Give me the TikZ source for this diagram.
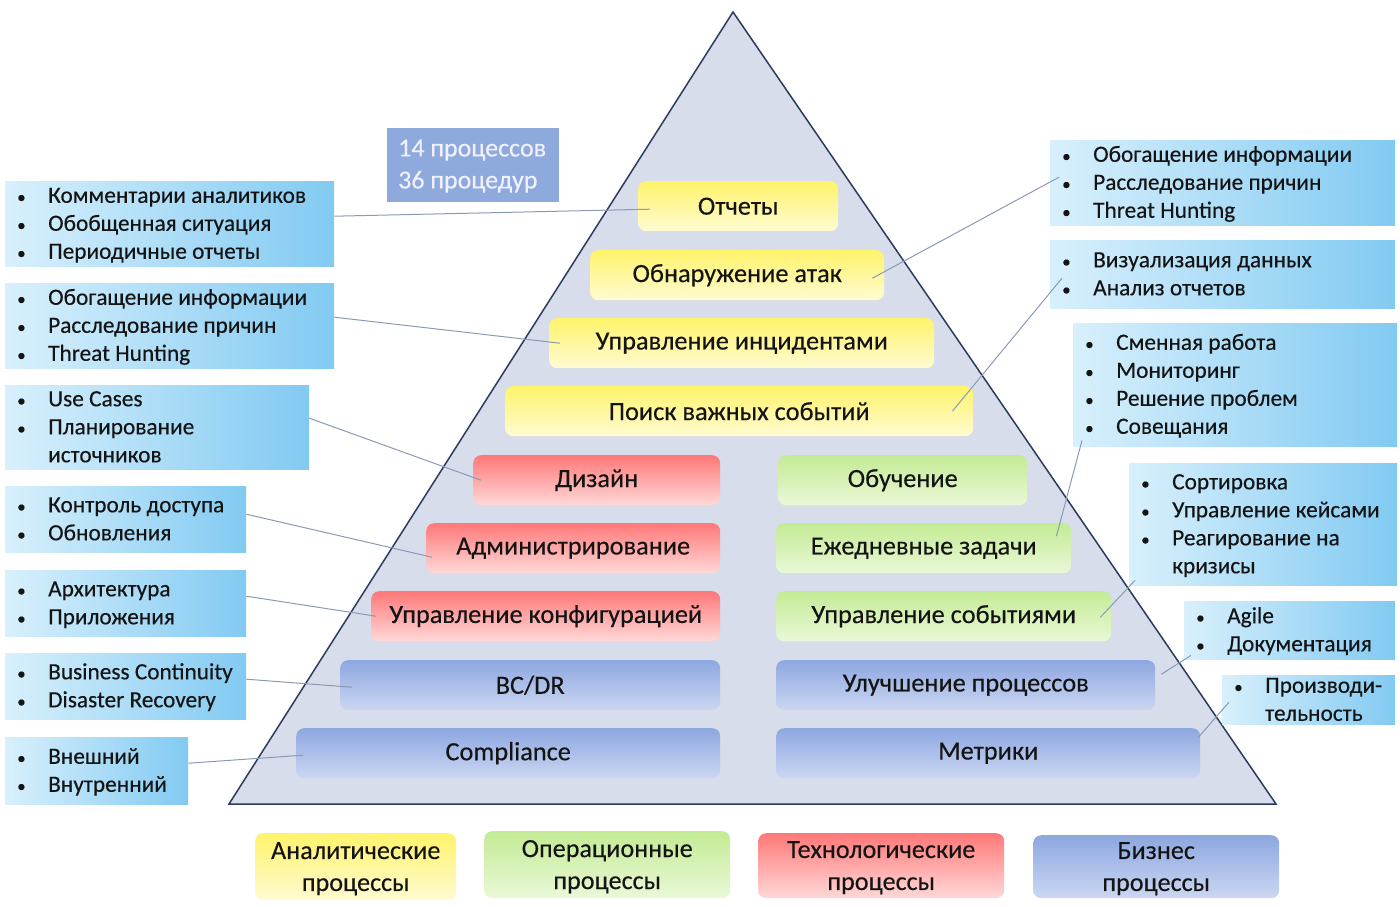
\documentclass[tikz,border=0pt]{standalone}
\usepackage{fontspec}
\setmainfont{Carlito}[FakeBold=0.3]
\usetikzlibrary{calc}
\definecolor{txt}{HTML}{141414}
\definecolor{trifill}{HTML}{D7DDEA}
\definecolor{tridraw}{HTML}{2B3A5E}
\definecolor{ytop}{HTML}{FFF36A}
\definecolor{ybot}{HTML}{FFFBD2}
\definecolor{rtop}{HTML}{FF7878}
\definecolor{rbot}{HTML}{FFD8D8}
\definecolor{gtop}{HTML}{C3EB94}
\definecolor{gbot}{HTML}{EAF8D8}
\definecolor{btop}{HTML}{8DA7E0}
\definecolor{bbot}{HTML}{CBD7F2}
\definecolor{ibl}{HTML}{D8F0FC}
\definecolor{ibr}{HTML}{82CAF2}
\definecolor{numc}{HTML}{8EA9DB}
\definecolor{connc}{HTML}{8A9AB5}
\newcommand\bul{\hspace*{2pt}{\fontsize{17}{28}\selectfont •}}
\newcommand\infob[6]{%
  \node[infobox, minimum width={#4-#2}, minimum height={#5-#3}] (#1) at (#2,#3) {};
  \node[listtext, anchor=west] (#1t) at ([xshift=10pt,yshift=-1.5pt]#1.west)
    {\begin{tabular}{@{}p{33pt}@{}l@{}}#6\end{tabular}};}
\begin{document}
\begin{tikzpicture}[x=1pt,y=-1pt,
  bar/.style={rounded corners=8pt, minimum height=50pt, inner sep=0pt,
    anchor=north west, text=txt, font=\fontsize{26.3}{30}\selectfont},
  ybar/.style={bar, top color=ytop, bottom color=ybot},
  rbar/.style={bar, top color=rtop, bottom color=rbot},
  gbar/.style={bar, top color=gtop, bottom color=gbot},
  bbar/.style={bar, top color=btop, bottom color=bbot},
  legend/.style={align=center, font=\fontsize{26.2}{32}\selectfont},
  legtext/.style={align=center, inner sep=0pt, text=txt, font=\fontsize{26.2}{32}\selectfont},
  infobox/.style={anchor=north west, inner sep=0pt, left color=ibl, right color=ibr},
  listtext/.style={inner sep=0pt, text=txt, font=\fontsize{23.3}{28}\selectfont},
  conn/.style={draw=connc, line width=1pt},
  tri/.style={fill=trifill, draw=tridraw, line width=1.5pt, line join=miter}]
\useasboundingbox (0,0) rectangle (1400,907);
% pyramid
\coordinate (apex) at (733,12);
\coordinate (bl) at (229,804);
\coordinate (br) at (1276,804);
\path[tri] (apex) -- (br) -- (bl) -- cycle;
% counts box
\node[anchor=north west, fill=numc, inner sep=0pt, minimum width=172, minimum height=74] (num) at (387,128) {};
\node[anchor=west, inner sep=0pt, align=left, text=white!94!blue, font=\fontsize{26}{32}\selectfont] (numt) at ([xshift=11pt,yshift=-1pt]num.west) {14 процессов\\36 процедур};
% analytic bars
\node[ybar, minimum width=200] (otch) at (638,181) {Отчеты};
\node[ybar, minimum width=294] (obn) at (590,250) {Обнаружение атак};
\node[ybar, minimum width=385] (upri) at (549,318) {Управление инцидентами};
\node[ybar, minimum width=468] (poisk) at (505,386) {Поиск важных событий};
% tech bars
\node[rbar, minimum width=247] (diz) at (473,455) {Дизайн};
\node[rbar, minimum width=294] (adm) at (426,523) {Администрирование};
\node[rbar, minimum width=349] (konf) at (371,591) {Управление конфигурацией};
% business bars left
\node[bbar, minimum width=380] (bcdr) at (340,660) {BC/DR};
\node[bbar, minimum width=424] (comp) at (296,728) {Compliance};
% operational bars
\node[gbar, minimum width=249] (obuch) at (778,455) {Обучение};
\node[gbar, minimum width=295] (ezhed) at (776,523) {Ежедневные задачи};
\node[gbar, minimum width=335] (upsob) at (776,591) {Управление событиями};
% business bars right
\node[bbar, minimum width=379] (uluch) at (776,660) {Улучшение процессов};
\node[bbar, minimum width=424] (metr) at (776,728) {Метрики};
% legend
\node[ybar, minimum width=201, minimum height=67] (lan) at (255,833) {};
\node[legtext] (lant) at ([yshift=-2pt]lan.center) {Аналитические\\процессы};
\node[gbar, minimum width=246, minimum height=67] (lop) at (484,831) {};
\node[legtext] (lopt) at ([yshift=-2pt]lop.center) {Операционные\\процессы};
\node[rbar, minimum width=246, minimum height=65] (lteh) at (758,833) {};
\node[legtext] (lteht) at ([yshift=-2pt]lteh.center) {Технологические\\процессы};
\node[bbar, minimum width=246, minimum height=63] (lbiz) at (1033,835) {};
\node[legtext] (lbizt) at ([yshift=-2pt]lbiz.center) {Бизнес\\процессы};
% left info boxes
\infob{l1}{5}{181}{334}{266}{\bul&Комментарии аналитиков\\\bul&Обобщенная ситуация\\\bul&Периодичные отчеты}
\infob{l2}{5}{283}{334}{368}{\bul&Обогащение информации\\\bul&Расследование причин\\\bul&Threat Hunting}
\infob{l3}{5}{385}{309}{469}{\bul&Use Cases\\\bul&Планирование\\&источников}
\infob{l4}{5}{486}{246}{552}{\bul&Контроль доступа\\\bul&Обновления}
\infob{l5}{5}{570}{246}{636}{\bul&Архитектура\\\bul&Приложения}
\infob{l6}{5}{653}{246}{719}{\bul&Business Continuity\\\bul&Disaster Recovery}
\infob{l7}{5}{737}{188}{804}{\bul&Внешний\\\bul&Внутренний}
% right info boxes
\infob{r1}{1050}{140}{1395}{225}{\bul&Обогащение информации\\\bul&Расследование причин\\\bul&Threat Hunting}
\infob{r2}{1050}{240}{1395}{308}{\bul&Визуализация данных\\\bul&Анализ отчетов}
\infob{r3}{1073}{323}{1397}{446}{\bul&Сменная работа\\\bul&Мониторинг\\\bul&Решение проблем\\\bul&Совещания}
\infob{r4}{1129}{463}{1397}{585}{\bul&Сортировка\\\bul&Управление кейсами\\\bul&Реагирование на\\&кризисы}
\infob{r5}{1184}{601}{1395}{659}{\bul&Agile\\\bul&Документация}
\infob{r6}{1222}{675}{1395}{724}{\bul&Производи-\\&тельность}
% connectors
\draw[conn] ([yshift=7.5pt]l1.east) -- ([xshift=12pt,yshift=-3pt]otch.west);
\draw[conn] ([yshift=8.5pt]l2.east) -- ([xshift=11pt]upri.west);
\draw[conn] ([yshift=9pt]l3.east) -- ([xshift=8pt]diz.west);
\draw[conn] ([yshift=5pt]l4.east) -- ([xshift=6pt,yshift=-9pt]adm.west);
\draw[conn] ([yshift=7pt]l5.east) -- ([xshift=5pt]konf.west);
\draw[conn] ([yshift=7pt]l6.east) -- ([xshift=12pt,yshift=-2pt]bcdr.west);
\draw[conn] ([yshift=7.5pt]l7.east) -- ([xshift=7pt,yshift=-2pt]comp.west);
\draw[conn] ([xshift=9pt,yshift=5.5pt]r1.west) -- ([xshift=-12pt,yshift=-3pt]obn.east);
\draw[conn] ([xshift=12pt,yshift=-4pt]r2.west) -- ([xshift=-21pt]poisk.east);
\draw[conn] ([xshift=9pt,yshift=6pt]r3.south west) -- ([xshift=-15pt,yshift=12pt]ezhed.east);
\draw[conn] ([xshift=6pt,yshift=5pt]r4.south west) -- ([xshift=-11pt,yshift=-1pt]upsob.east);
\draw[conn] ([xshift=7pt,yshift=4pt]r5.south west) -- ([xshift=6pt,yshift=11pt]uluch.east);
\draw[conn] ([xshift=7pt,yshift=-2.5pt]r6.west) -- ([xshift=-2pt,yshift=16pt]metr.east);
\end{tikzpicture}
\end{document}
